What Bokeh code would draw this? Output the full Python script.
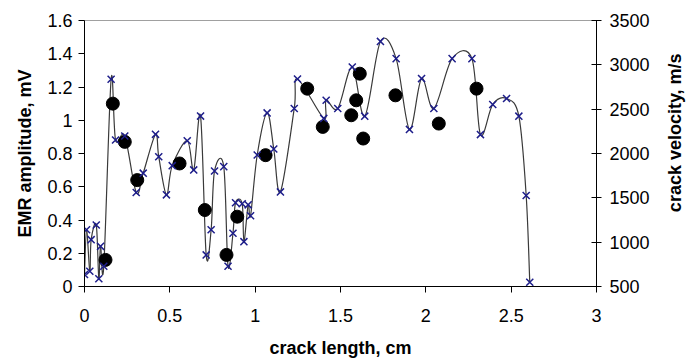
import math
import numpy as np
from bokeh.plotting import figure
from bokeh.layouts import row
from bokeh.models import Range1d, LinearAxis, FixedTicker, NumeralTickFormatter
from bokeh.core.properties import value
from bokeh.embed import file_html
from bokeh.resources import INLINE

# EMR amplitude (black dots, left axis)
crack_len_emr = [0.123, 0.166, 0.236, 0.309, 0.557, 0.705, 0.832, 0.895, 1.061,
                 1.305, 1.396, 1.563, 1.592, 1.613, 1.633, 1.822, 2.076, 2.297]
emr_amp = [0.16, 1.10, 0.87, 0.64, 0.74, 0.46, 0.19, 0.42, 0.79,
           1.19, 0.96, 1.03, 1.12, 1.28, 0.89, 1.15, 0.98, 1.19]

# crack velocity (crosses + smoothed line, right axis)
crack_len_vel = [0.0, 0.012, 0.031, 0.039, 0.069, 0.084, 0.094, 0.113, 0.156, 0.182,
                 0.236, 0.303, 0.344, 0.416, 0.435, 0.480, 0.514, 0.602, 0.640, 0.680,
                 0.713, 0.742, 0.762, 0.816, 0.841, 0.870, 0.885, 0.924, 0.934, 0.959,
                 0.973, 1.012, 1.070, 1.109, 1.148, 1.229, 1.248, 1.402, 1.416, 1.484,
                 1.569, 1.642, 1.734, 1.826, 1.904, 1.975, 2.047, 2.154, 2.270, 2.320,
                 2.392, 2.473, 2.545, 2.588, 2.609]
crack_vel = [635, 1140, 672, 1028, 1193, 587, 953, 728, 2837, 2152,
             2197, 1560, 1778, 2216, 1964, 1534, 1863, 2144, 1815, 2422,
             856, 1140, 1803, 1852, 728, 1100, 1444, 1433, 1006, 1421,
             1298, 1983, 2458, 2051, 1567, 2508, 2840, 2396, 2601, 2508,
             2975, 2421, 3264, 3070, 2272, 2845, 2508, 3070, 3070, 2213,
             2553, 2620, 2421, 1526, 548]

x_ticks = [0, 0.5, 1, 1.5, 2, 2.5, 3]
amp_ticks = [0, 0.2, 0.4, 0.6, 0.8, 1.0, 1.2, 1.4, 1.6]
vel_ticks = [500, 1000, 1500, 2000, 2500, 3000, 3500]
right_title = "crack velocity, m/s"

FONT = "Liberation Sans"

p = figure(width=660, height=360, x_range=Range1d(0, 3), y_range=Range1d(0, 1.6),
           output_backend="svg", toolbar_location=None,
           min_border_left=84, min_border_right=64, min_border_top=20, min_border_bottom=73)
p.extra_y_ranges = {"vel": Range1d(500, 3500)}
p.xgrid.visible = False
p.ygrid.visible = False
p.outline_line_color = "#a0a0a0"
p.background_fill_color = "white"
p.border_fill_color = "white"

# smoothed line through velocity points (Catmull-Rom -> cubic Bezier)
xs = np.array(crack_len_vel, dtype=float)
ys = np.array(crack_vel, dtype=float)
xp = np.concatenate([[xs[0]], xs[:-1]]); xn = np.concatenate([xs[1:], [xs[-1]]])
yp = np.concatenate([[ys[0]], ys[:-1]]); yn = np.concatenate([ys[1:], [ys[-1]]])
tx = (xn - xp) / 6.0
ty = (yn - yp) / 6.0
p.bezier(x0=xs[:-1], y0=ys[:-1], x1=xs[1:], y1=ys[1:],
         cx0=xs[:-1] + tx[:-1], cy0=ys[:-1] + ty[:-1],
         cx1=xs[1:] - tx[1:], cy1=ys[1:] - ty[1:],
         line_color="#3a3a3a", line_width=1.2, y_range_name="vel")

p.scatter(crack_len_emr, emr_amp, size=13, marker="circle",
          fill_color="black", line_color="black")
p.scatter(crack_len_vel, crack_vel, size=10, marker="x", line_color="#1e1e8a",
          line_width=1.5, y_range_name="vel")

def style(ax):
    ax.axis_line_color = "black"
    ax.major_tick_line_color = "black"
    ax.minor_tick_line_color = None
    ax.major_label_text_font = FONT
    ax.major_label_text_font_size = "18px"
    ax.major_label_text_color = "black"
    ax.axis_label_text_font = FONT
    ax.axis_label_text_font_size = "18px"
    ax.axis_label_text_font_style = "bold"
    ax.axis_label_text_color = "black"

xa = p.xaxis[0]
style(xa)
xa.ticker = FixedTicker(ticks=x_ticks)
xa.formatter = NumeralTickFormatter(format="0.[0]")
xa.axis_label = "crack length, cm"
xa.major_tick_out = 6
xa.major_tick_in = 0
xa.major_label_standoff = 16
xa.axis_label_standoff = 13

ya = p.yaxis[0]
style(ya)
ya.ticker = FixedTicker(ticks=amp_ticks)
ya.formatter = NumeralTickFormatter(format="0.[0]")
ya.axis_label = "EMR amplitude, mV"
ya.major_tick_out = 6
ya.major_tick_in = 0
ya.major_label_standoff = 6
ya.axis_label_standoff = 9

ra = LinearAxis(y_range_name="vel", ticker=FixedTicker(ticks=vel_ticks),
                formatter=NumeralTickFormatter(format="0"))
style(ra)
ra.major_tick_out = 5
ra.major_tick_in = 5
ra.major_label_standoff = 8
p.add_layout(ra, "right")

# narrow strip holding the right-axis title, reading bottom-to-top
p2 = figure(width=28, height=360, x_range=Range1d(0, 1), y_range=Range1d(0, 1),
            output_backend="svg", toolbar_location=None,
            x_axis_type=None, y_axis_type=None,
            min_border_left=0, min_border_right=0, min_border_top=0, min_border_bottom=0)
p2.xgrid.visible = False
p2.ygrid.visible = False
p2.outline_line_color = None
p2.background_fill_color = "white"
p2.border_fill_color = "white"
p2.text(x=[0.5], y=[0.578], text=[right_title], angle=math.pi / 2,
        text_align="center", text_baseline="middle",
        text_font=value(FONT), text_font_size=value("18px"),
        text_font_style="bold", text_color="black")

layout = row(p, p2, spacing=0)
open("out.html", "w").write(file_html(layout, INLINE))
